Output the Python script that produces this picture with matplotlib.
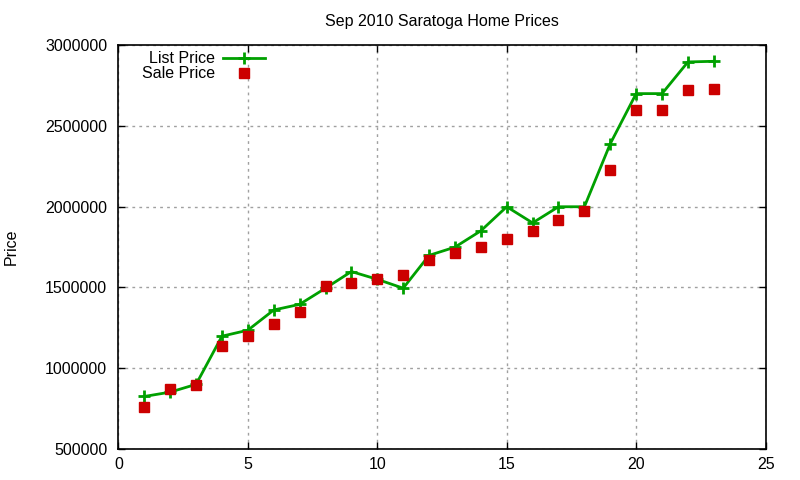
import matplotlib
matplotlib.use("Agg")
import matplotlib.pyplot as plt
from matplotlib.ticker import MultipleLocator, FormatStrFormatter

# dados (Sep 2010, Saratoga)
meses = list(range(1, 24))
preco_lista = [825000, 852000, 900000, 1198000, 1235000, 1360000, 1395000, 1495000,
               1598000, 1550000, 1495000, 1698000, 1749000, 1850000, 1999000, 1899000,
               1999000, 1999000, 2389000, 2699000, 2699000, 2895000, 2899000]
preco_venda = [758000, 874000, 899000, 1135000, 1198000, 1271000, 1345000, 1511000,
               1525000, 1550000, 1575000, 1672000, 1711000, 1750000, 1797000, 1848000,
               1916000, 1970000, 2226000, 2598000, 2598000, 2722000, 2728000]

plt.rcParams["font.family"] = ["Liberation Sans", "DejaVu Sans"]
plt.rcParams["font.size"] = 11.5

fig = plt.figure(figsize=(8, 4.8), dpi=100)
ax = fig.add_axes([0.148, 0.0646, 0.809, 0.8417])

ax.plot(meses, preco_lista, color="#00a000", linewidth=2, marker="+",
        markersize=9, markeredgewidth=2, label="List Price")
ax.plot(meses, preco_venda, linestyle="none", color="#cc0000", marker="s",
        markersize=7.5, label="Sale Price")

ax.set_xlim(0, 25)
ax.set_ylim(500000, 3000000)
ax.xaxis.set_major_locator(MultipleLocator(5))
ax.yaxis.set_major_locator(MultipleLocator(500000))
ax.yaxis.set_major_formatter(FormatStrFormatter("%d"))
ax.tick_params(direction="in", top=True, right=True, length=5, width=1, pad=6)
ax.tick_params(axis="y", pad=8)
ax.grid(True, color="#a0a0a0", linestyle=(0, (2, 3)), linewidth=1)
for s in ax.spines.values():
    s.set_linewidth(1.2)

ax.set_title("Sep 2010 Saratoga Home Prices", pad=14, fontsize=11.5)
ax.set_ylabel("Price", labelpad=19)

leg = ax.legend(loc="upper left", frameon=False, markerfirst=False, handlelength=2.6,
                borderaxespad=0.0, labelspacing=0.0, handletextpad=0.5,
                bbox_to_anchor=(0.027, 1.0))

fig.savefig("out.png", dpi=100)
